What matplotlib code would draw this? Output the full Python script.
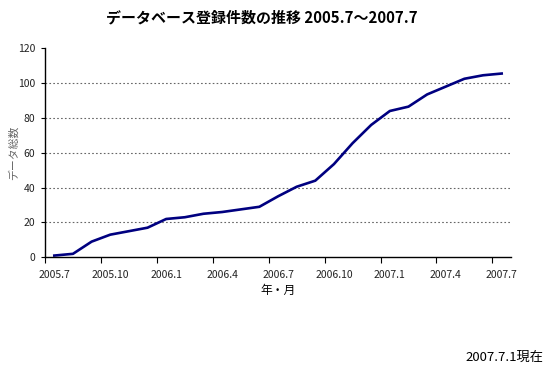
import matplotlib
matplotlib.use('Agg')
from matplotlib import pyplot as plt
import numpy as np

plt.rcParams['font.family'] = ['Noto Sans CJK JP', 'DejaVu Sans']

# Monthly totals, 2005.7 - 2007.7
months = ['2005.7', '2005.8', '2005.9', '2005.10', '2005.11', '2005.12',
          '2006.1', '2006.2', '2006.3', '2006.4', '2006.5', '2006.6',
          '2006.7', '2006.8', '2006.9', '2006.10', '2006.11', '2006.12',
          '2007.1', '2007.2', '2007.3', '2007.4', '2007.5', '2007.6', '2007.7']
counts = [1, 2, 9, 13, 15, 17, 22, 23, 25, 26, 27.5, 29,
          35, 40.5, 44, 53.5, 65.5, 76, 84, 86.5, 93.5, 98, 102.5, 104.5, 105.5]
y_ticks = [0, 20, 40, 60, 80, 100, 120]

fig = plt.figure(figsize=(5.45, 3.68), dpi=100)
ax = fig.add_axes([0.0826, 0.3008, 0.855, 0.568])

x = np.arange(len(months))
ax.plot(x, counts, color='#000080', linewidth=1.9, solid_joinstyle='round')

# gridlines
for v in y_ticks[1:-1]:
    ax.axhline(v, color='#666666', linewidth=0.8, linestyle=(0, (1.5, 2)), zorder=0)

ax.set_xlim(-0.5, len(months) - 0.5)
ax.set_ylim(0, 120)
ax.set_yticks(y_ticks)
ax.set_yticklabels([str(v) for v in y_ticks], fontsize=7.5, color='#222222')

# category axis: tick marks between categories, labels every 3 months
ax.set_xticks(np.arange(-0.5, len(months) - 1, 3))
ax.set_xticklabels([])
ax.set_xticks(x[::3], minor=True)
ax.set_xticklabels(months[::3], minor=True, fontsize=7.5, color='#222222')
ax.tick_params(axis='x', which='major', length=4, width=0.8, direction='out')
ax.tick_params(axis='x', which='minor', length=0, pad=9)
ax.tick_params(axis='y', length=3, width=0.8, direction='out', pad=4)

for s in ['top', 'right']:
    ax.spines[s].set_visible(False)
for s in ['left', 'bottom']:
    ax.spines[s].set_linewidth(1.0)

ax.set_xlabel('年・月', fontsize=8.5, labelpad=3)
fig.text(0.024, 0.585, 'データ総数', rotation=90, ha='center', va='center',
         fontsize=7.8, color='#666666')

fig.text(0.48, 0.953, 'データベース登録件数の推移 2005.7～2007.7',
         ha='center', va='center', fontsize=10.8, fontweight='bold')
fig.text(0.997, 0.03, '2007.7.1現在', ha='right', va='center', fontsize=9.5)

fig.savefig('out.png', dpi=100)
